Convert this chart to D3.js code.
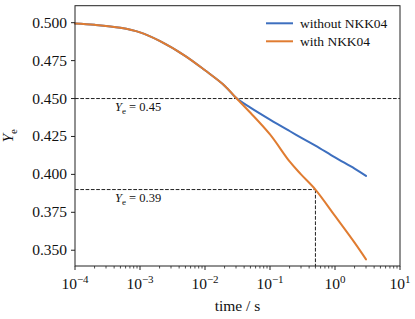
<!DOCTYPE html>
<html>
<head>
<meta charset="utf-8">
<script src="https://cdn.jsdelivr.net/npm/d3@7"></script>
<style>
  body { margin: 0; background: #fff; }
  svg { display: block; font-family: "Liberation Serif", "DejaVu Serif", serif; }
</style>
</head>
<body>
<svg width="415" height="319"></svg>
<script>
// time in seconds
const times = [1e-4, 2e-4, 5e-4, 1e-3, 2e-3, 5e-3, 1e-2, 2e-2, 3e-2, 5e-2, 0.1, 0.2, 0.3, 0.5, 1, 2, 3];
// electron fraction Ye
const yeWithout = [0.4995, 0.4986, 0.4966, 0.4936, 0.4880, 0.4780, 0.4686, 0.4585, 0.4505,
                   0.4440, 0.4361, 0.4286, 0.4243, 0.4190, 0.4112, 0.4038, 0.3990];
const yeWith    = [0.4995, 0.4986, 0.4966, 0.4936, 0.4880, 0.4780, 0.4686, 0.4585, 0.4505,
                   0.4406, 0.4263, 0.4085, 0.4000, 0.3900, 0.3726, 0.3550, 0.3440];
const seriesNames = ["without NKK04", "with NKK04"];
const yTicks = [0.350, 0.375, 0.400, 0.425, 0.450, 0.475, 0.500];
const xTickExps = [-4, -3, -2, -1, 0, 1];
// reference markers: [Ye level, time where the dashed lines stop (null = full width)]
const markers = [[0.45, null], [0.39, 0.5]];

const margin = { left: 75, right: 15, top: 5.7, bottom: 53 };
const width = 415 - margin.left - margin.right;
const height = 319 - margin.top - margin.bottom;
const colors = ["#3d6fbf", "#e07c31"];

const svg = d3.select("svg")
    .append("g")
    .attr("transform", `translate(${margin.left},${margin.top})`);

const x = d3.scaleLog().domain([1e-4, 10]).range([0, width]);
const y = d3.scaleLinear().domain([0.3396, 0.5112]).range([height, 0]);

// Dashed reference lines
markers.forEach(([level, t]) => {
    const xEnd = t === null ? width : x(t);
    svg.append("line")
        .attr("x1", 0).attr("x2", xEnd)
        .attr("y1", y(level)).attr("y2", y(level))
        .attr("stroke", "#222").attr("stroke-width", 1)
        .attr("stroke-dasharray", "3.7,1.6");
    if (t !== null) {
        svg.append("line")
            .attr("x1", x(t)).attr("x2", x(t))
            .attr("y1", y(level)).attr("y2", height)
            .attr("stroke", "#222").attr("stroke-width", 1)
            .attr("stroke-dasharray", "3.7,1.6");
    }
    const label = svg.append("text")
        .attr("x", 40)
        .attr("y", y(level) + 12.5)
        .style("font-size", "12.5px")
        .attr("fill", "#111");
    label.append("tspan").style("font-style", "italic").text("Y");
    label.append("tspan").attr("dy", 3).style("font-size", "9px").text("e");
    label.append("tspan").attr("dy", -3).text(` = ${level.toFixed(2)}`);
});

// Curves
const line = d3.line()
    .x((d, i) => x(times[i]))
    .y(d => y(d))
    .curve(d3.curveCatmullRom.alpha(0.5));

[yeWithout, yeWith].forEach((vals, i) => {
    svg.append("path")
        .datum(vals)
        .attr("fill", "none")
        .attr("stroke", colors[i])
        .attr("stroke-width", 2)
        .attr("stroke-linecap", "round")
        .attr("d", line);
});

// Axes
const minorTicks = [];
for (let e = -4; e < 1; e++) {
    for (let m = 2; m <= 9; m++) minorTicks.push(m * Math.pow(10, e));
}

const gx = svg.append("g")
    .attr("transform", `translate(0,${height})`);
gx.selectAll(".minor")
    .data(minorTicks)
    .join("line")
    .attr("x1", d => x(d)).attr("x2", d => x(d))
    .attr("y1", 0).attr("y2", 2.5)
    .attr("stroke", "#222").attr("stroke-width", 0.8);
gx.selectAll(".major")
    .data(xTickExps)
    .join("line")
    .attr("x1", d => x(Math.pow(10, d))).attr("x2", d => x(Math.pow(10, d)))
    .attr("y1", 0).attr("y2", 4)
    .attr("stroke", "#222").attr("stroke-width", 1);
const xl = gx.selectAll(".xlab")
    .data(xTickExps)
    .join("text")
    .attr("x", d => x(Math.pow(10, d)))
    .attr("y", 23)
    .attr("text-anchor", "middle")
    .style("font-size", "15.5px")
    .attr("fill", "#111");
xl.append("tspan").text("10");
xl.append("tspan").attr("dy", -6).style("font-size", "11px").text(d => String(d).replace("-", "\u2212"));

const gy = svg.append("g");
gy.selectAll("line")
    .data(yTicks)
    .join("line")
    .attr("x1", -4).attr("x2", 0)
    .attr("y1", d => y(d)).attr("y2", d => y(d))
    .attr("stroke", "#222").attr("stroke-width", 1);
gy.selectAll("text")
    .data(yTicks)
    .join("text")
    .attr("x", -8)
    .attr("y", d => y(d) + 5)
    .attr("text-anchor", "end")
    .style("font-size", "15.5px")
    .attr("fill", "#111")
    .text(d => d.toFixed(3));

// Frame
svg.append("rect")
    .attr("width", width).attr("height", height)
    .attr("fill", "none").attr("stroke", "#222").attr("stroke-width", 1);

// Axis labels
svg.append("text")
    .attr("x", width / 2)
    .attr("y", height + 45)
    .attr("text-anchor", "middle")
    .style("font-size", "15.5px")
    .attr("fill", "#111")
    .text("time / s");

const yl = svg.append("text")
    .attr("transform", `translate(${-62},${height / 2}) rotate(-90)`)
    .attr("text-anchor", "middle")
    .style("font-size", "15.5px")
    .attr("fill", "#111");
yl.append("tspan").style("font-style", "italic").text("Y");
yl.append("tspan").attr("dy", 3.5).style("font-size", "11px").text("e");

// Legend
const legend = svg.append("g").attr("transform", `translate(${191},${17.6})`);
seriesNames.forEach((name, i) => {
    const row = legend.append("g").attr("transform", `translate(0,${i * 18})`);
    row.append("line")
        .attr("x1", 0).attr("x2", 27)
        .attr("stroke", colors[i]).attr("stroke-width", 2);
    row.append("text")
        .attr("x", 34).attr("y", 4.5)
        .style("font-size", "13.5px")
        .attr("fill", "#111")
        .text(name);
});
</script>
</body>
</html>
